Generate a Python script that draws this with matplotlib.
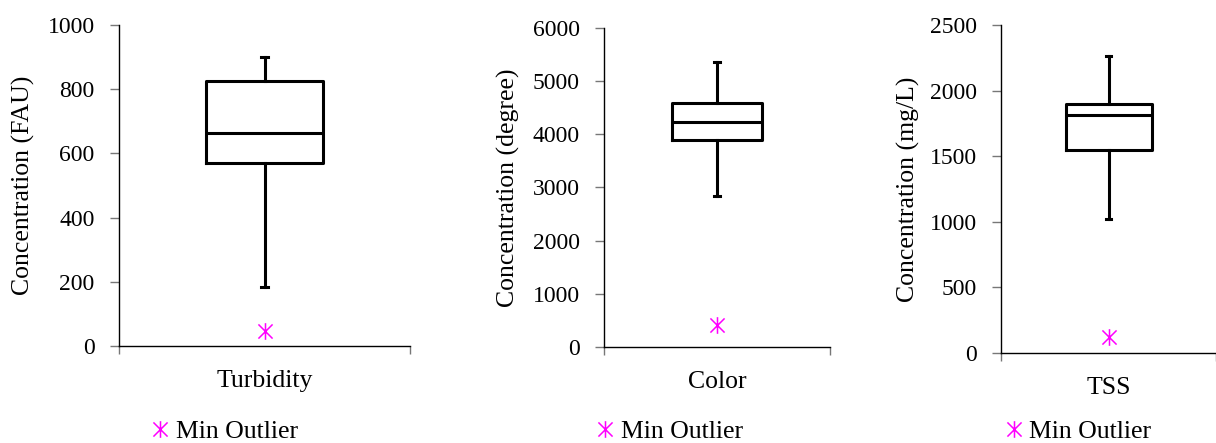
import matplotlib.pyplot as plt
from matplotlib.lines import Line2D
from matplotlib.path import Path

plt.rcParams['font.family'] = ['Liberation Serif', 'DejaVu Serif']

# box statistics
params = ['Turbidity', 'Color', 'TSS']
ylabels = ['Concentration (FAU)', 'Concentration (degree)', 'Concentration (mg/L)']
whis_lo = [184, 2840, 1021]
q1 = [570, 3893, 1547]
med = [663, 4232, 1814]
q3 = [825, 4589, 1898]
whis_hi = [900, 5360, 2264]
min_outlier = [47, 414, 122]
ymax = [1000, 6000, 2500]
ystep = [200, 1000, 500]

# axes placement (figure fraction) and label placement
axes_rect = [[0.0979, 0.2190, 0.2393, 0.7246],
             [0.4967, 0.2167, 0.1859, 0.7201],
             [0.8232, 0.2032, 0.1768, 0.7404]]
ylabel_x = [-0.289, -0.372, -0.377]
legend_x = [0.184, 0.550, 0.886]

fig = plt.figure(figsize=(12.16, 4.43), dpi=100)
pink = '#FF00FF'
# excel style asterisk: an X with a vertical bar through it
d = 0.85
star = Path([(0, -1), (0, 1), (-d, -d), (d, d), (-d, d), (d, -d)],
            [Path.MOVETO, Path.LINETO] * 3)
tick_fs = 17
text_fs = 18.5

for i in range(3):
    ax = fig.add_axes(axes_rect[i])
    stats = [{'whislo': whis_lo[i], 'q1': q1[i], 'med': med[i],
              'q3': q3[i], 'whishi': whis_hi[i], 'fliers': []}]
    lw = 2.2
    ax.bxp(stats, positions=[0.5], widths=0.40, capwidths=0.025,
           showfliers=False,
           boxprops=dict(color='black', linewidth=lw),
           medianprops=dict(color='black', linewidth=lw),
           whiskerprops=dict(color='black', linewidth=lw),
           capprops=dict(color='black', linewidth=lw))
    ax.plot([0.5], [min_outlier[i]], linestyle='none', marker=star,
            markersize=12, markeredgecolor=pink, markeredgewidth=1.1)

    ax.set_xlim(0, 1)
    ax.set_ylim(0, ymax[i])
    ax.set_yticks(range(0, ymax[i] + 1, ystep[i]))
    ax.set_xticks([0, 1])
    ax.set_xticklabels(['', ''])
    ax.set_xticks([0.5], minor=True)
    ax.set_xticklabels([params[i]], minor=True)
    ax.tick_params(axis='x', which='major', direction='out', length=6,
                   width=1, color='#777777')
    ax.tick_params(axis='x', which='minor', length=0, pad=17, labelsize=text_fs)
    ax.tick_params(axis='y', direction='out', length=6.5, width=1,
                   color='#777777', labelsize=tick_fs, pad=11)
    for s in ['top', 'right']:
        ax.spines[s].set_visible(False)
    for s in ['left', 'bottom']:
        ax.spines[s].set_linewidth(1.0)
    ax.set_ylabel(ylabels[i], fontsize=text_fs)
    ax.yaxis.set_label_coords(ylabel_x[i], 0.5)

    handle = Line2D([], [], linestyle='none', marker=star, markersize=12,
                    markeredgecolor=pink, markeredgewidth=1.1)
    fig.legend([handle], ['Min Outlier'], loc='center',
               bbox_to_anchor=(legend_x[i], 0.027), frameon=False,
               fontsize=text_fs, handlelength=0.8, handletextpad=0.2,
               borderaxespad=0, borderpad=0)

fig.savefig('out.png', dpi=100)
